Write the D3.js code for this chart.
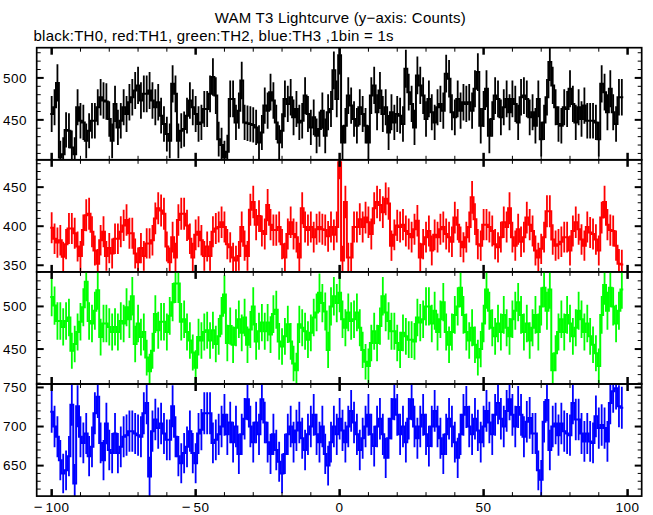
<!DOCTYPE html>
<html><head><meta charset="utf-8">
<script src="https://cdn.jsdelivr.net/npm/d3@7"></script>
<style>body{margin:0;background:#fff}</style>
</head><body><svg id="c" width="653" height="515"></svg>
<script>
// time of first 1-s bin
const tStart = -100;
// TH0 (black) counts per bin, t = -100 .. 98
const th0 = [457,465,494,405,409,438,437,417,409,465,449,447,425,437,449,449,465,477,473,472,451,425,469,441,449,465,457,471,477,485,491,473,481,481,485,473,465,471,455,445,433,425,493,481,425,437,439,455,473,465,457,445,447,463,463,481,501,479,
427,420,405,412,475,475,447,461,497,447,446,445,444,441,423,435,467,461,483,473,447,423,437,475,469,477,453,463,447,449,479,457,441,453,431,439,461,431,459,463,509,475,527,423,443,479,467,451,443,465,457,443,423,479,491,459,485,457,465,435,459,447,457,455,445,511,483,469,441,503,491,479,451,
475,459,447,465,469,461,505,499,459,453,475,461,471,469,471,461,487,507,443,463,487,431,451,479,475,453,465,475,459,475,469,447,477,479,475,453,459,443,475,427,447,477,519,491,465,445,443,465,463,487,469,447,465,451,467,449,449,449,447,427,493,483,459,487,459,445,477,477];
// TH1 (red)
const th1 = [398,384,379,382,361,377,397,397,391,374,362,395,414,416,393,369,352,382,393,362,372,365,384,384,393,401,408,391,391,365,354,372,362,378,378,382,410,423,420,416,374,354,386,360,408,416,416,401,384,360,389,393,382,362,374,362,393,397,
399,405,399,377,373,360,356,362,399,375,362,421,431,402,413,394,390,427,402,395,395,399,377,360,390,405,390,386,360,423,399,395,399,386,396,399,396,395,387,399,389,399,482,356,431,360,360,399,399,409,399,411,405,390,423,431,427,418,435,429,375,389,401,399,402,394,390,386,396,407,360,377,386,
394,369,389,386,396,399,390,386,380,411,402,380,373,386,399,437,409,377,375,402,402,399,394,377,373,386,405,399,423,386,375,396,380,386,411,402,394,369,360,371,386,419,419,383,375,377,380,386,386,369,394,405,396,383,375,399,392,390,383,369,411,431,402,395,394,375,352,351];
// TH2 (green)
const th2 = [511,501,483,483,476,483,487,448,456,470,482,499,529,483,480,495,519,464,480,480,476,470,476,470,483,480,499,485,512,456,480,464,470,440,424,448,491,472,482,482,470,489,505,527,527,482,485,470,460,446,428,464,460,470,472,460,472,456,
465,489,514,457,477,455,475,485,469,487,455,473,500,459,471,481,471,481,467,491,496,459,453,465,479,459,433,425,479,475,471,461,469,487,493,516,504,494,449,500,512,504,516,485,475,493,483,485,493,475,449,435,430,457,471,457,477,512,493,483,471,471,457,449,469,465,461,461,459,487,481,485,500,
500,480,495,470,485,505,470,455,470,490,500,522,490,470,460,475,455,440,450,480,520,495,475,465,480,470,490,475,465,485,495,505,490,470,480,460,475,490,470,500,522,495,520,425,445,470,485,470,490,480,465,475,495,485,470,480,465,455,445,430,490,525,495,522,500,480,495,520];
// TH3 (blue)
const th3 = [719,700,687,657,640,644,662,728,627,726,687,679,691,662,674,717,738,679,657,704,670,666,691,666,674,687,689,694,694,691,689,687,717,730,636,694,709,698,704,691,683,683,726,687,662,653,666,674,694,666,653,691,696,717,717,717,679,683,
690,700,715,690,705,680,700,665,690,710,735,700,680,705,690,735,705,680,665,690,670,655,640,665,690,700,680,695,705,685,670,690,700,715,690,680,700,665,650,680,700,690,710,695,680,700,720,705,690,670,685,700,715,690,675,700,710,690,660,685,710,735,715,690,700,680,710,735,700,685,700,715,690,
675,700,720,700,685,665,690,710,700,680,660,690,715,725,700,690,710,695,680,700,720,705,690,715,730,710,700,720,735,715,700,725,
715,687,706,711,691,691,644,632,706,734,670,700,704,689,704,694,691,689,730,709,709,691,681,691,681,679,713,698,702,698,681,730,745,749,726,724];
const xTickValues = [-100,-50,0,50,100];

const W = 653, H = 515;
const left = 36.7, right = 641.7, top0 = 47.7, panelH = 112.1;
const svg = d3.select('#c');
svg.append('rect').attr('width',W).attr('height',H).attr('fill','#fff');
const font = "'Liberation Sans', Arial, Helvetica, sans-serif";

const x = d3.scaleLinear().domain([-105.2, 104.9]).range([left, right]);

const panels = [
  {data: th0, color: '#000000', domain: [402.4, 536], major: 50},
  {data: th1, color: '#ff0000', domain: [341.5, 485], major: 50},
  {data: th2, color: '#00ff00', domain: [409, 540.5], major: 50},
  {data: th3, color: '#0000ff', domain: [611, 754.4], major: 50}
];

svg.append('text').attr('x', 340.2).attr('y', 23).attr('text-anchor','middle')
  .attr('font-family', font).attr('font-size', 15)
  .attr('textLength', 251).attr('lengthAdjust', 'spacing')
  .text('WAM T3 Lightcurve (y\u2212axis: Counts)');
svg.append('text').attr('x', 33.5).attr('y', 40.5)
  .attr('font-family', font).attr('font-size', 15)
  .attr('textLength', 360).attr('lengthAdjust', 'spacing')
  .text('black:TH0, red:TH1, green:TH2, blue:TH3 ,1bin = 1s');

function addLabel(sel, xx, yy, v, anchor) {
  const t = sel.append('text').attr('x', xx).attr('y', yy).attr('text-anchor', anchor)
    .attr('font-family', font).attr('font-size', 13.5).attr('letter-spacing', 0.5);
  if (v < 0) {
    t.append('tspan').attr('font-size', 15).text('\u2212');
    t.append('tspan').attr('dx', 2.5).text(String(Math.abs(v)));
  } else {
    t.text(String(v));
  }
}

panels.forEach((p, i) => {
  const yTop = top0 + i * panelH, yBot = yTop + panelH;
  const y = d3.scaleLinear().domain(p.domain).range([yBot, yTop]);
  const g = svg.append('g');
  const cid = 'clip' + i;
  svg.append('clipPath').attr('id', cid).append('rect')
    .attr('x', left).attr('y', yTop).attr('width', right - left).attr('height', panelH);
  const dg = g.append('g').attr('clip-path', `url(#${cid})`);
  const pts = [];
  p.data.forEach((v, k) => { const t = tStart + k; pts.push([t - 0.5, v], [t + 0.5, v]); });
  const line = d3.line().x(d => x(d[0])).y(d => y(d[1]));
  dg.append('path').attr('d', line(pts)).attr('fill','none').attr('stroke', p.color).attr('stroke-width', 2);
  dg.selectAll('line.err').data(p.data).enter().append('line')
    .attr('x1', (v, k) => x(tStart + k)).attr('x2', (v, k) => x(tStart + k))
    .attr('y1', v => y(v - Math.sqrt(v))).attr('y2', v => y(v + Math.sqrt(v)))
    .attr('stroke', p.color).attr('stroke-width', 1.8);

  g.append('rect').attr('x', left).attr('y', yTop).attr('width', right - left).attr('height', panelH)
    .attr('fill','none').attr('stroke','#000').attr('stroke-width', 1.7);
  const xt = d3.range(-100, 101, 10);
  xt.forEach(t => {
    const maj = t % 50 === 0, len = maj ? 7 : 4;
    [[yTop, 1], [yBot, -1]].forEach(([yy, s]) => {
      g.append('line').attr('x1', x(t)).attr('x2', x(t)).attr('y1', yy).attr('y2', yy + s * len)
        .attr('stroke','#000').attr('stroke-width', maj ? 2.5 : 1);
    });
  });
  const yt = d3.range(Math.ceil(p.domain[0] / 10) * 10, p.domain[1], 10);
  yt.forEach(v => {
    const maj = v % p.major === 0, len = maj ? 7 : 4;
    g.append('line').attr('x1', left).attr('x2', left + len).attr('y1', y(v)).attr('y2', y(v))
      .attr('stroke','#000').attr('stroke-width', maj ? 2 : 1);
    g.append('line').attr('x1', right).attr('x2', right - len).attr('y1', y(v)).attr('y2', y(v))
      .attr('stroke','#000').attr('stroke-width', maj ? 2 : 1);
    if (maj) addLabel(g, 27, y(v) + 4.7, v, 'end');
  });
});

const yBottom = top0 + 4 * panelH;
xTickValues.forEach(t => addLabel(svg, x(t), yBottom + 15.5, t, 'middle'));
</script></body></html>
